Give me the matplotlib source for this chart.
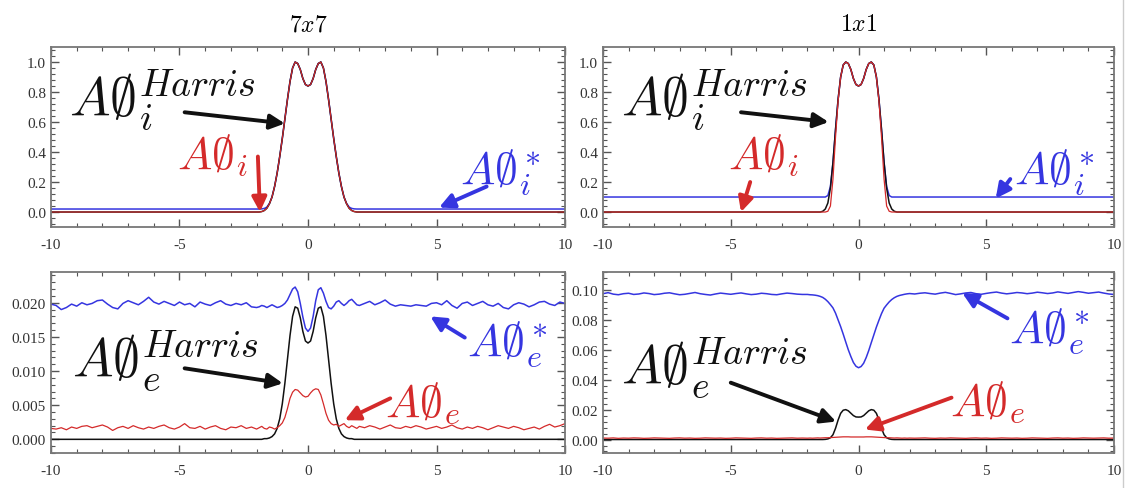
"""
Four-panel comparison of A0 profiles (7x7 vs 1x1), inner and edge quantities.
"""
import numpy as np
import matplotlib
matplotlib.use("Agg")
import matplotlib.pyplot as plt
from matplotlib.ticker import MultipleLocator, AutoMinorLocator, FormatStrFormatter
from matplotlib.lines import Line2D

plt.rcParams["mathtext.fontset"] = "cm"
plt.rcParams["font.family"] = ["Liberation Serif", "DejaVu Serif"]
plt.rcParams["axes.unicode_minus"] = False

BLUE = "#3535e0"
RED = "#d42a2a"
BLACK = "#111111"

# sampling grids (coarse outside the core, finer in the middle)
X_LEFT = np.round(np.arange(-10.0, -2.1, 0.2), 1)
X_MID = np.round(np.arange(-2.0, 2.01, 0.1), 1)
X_RIGHT = np.round(np.arange(2.2, 10.01, 0.2), 1)
X_FULL = np.concatenate([X_LEFT, X_MID, X_RIGHT])
X_SMOOTH = np.concatenate([[-10.0], X_MID, [10.0]])

# ---- top-left (7x7, inner) ----
TL_BLACK = [0.0,
            0.0, 0.0, 0.003, 0.01, 0.025, 0.055, 0.10, 0.17, 0.26, 0.37, 0.49,
            0.62, 0.75, 0.87, 0.96, 1.0, 0.99, 0.95, 0.89, 0.85, 0.84,
            0.85, 0.89, 0.95, 0.99, 1.0, 0.96, 0.87, 0.75, 0.62, 0.49,
            0.37, 0.26, 0.17, 0.10, 0.055, 0.025, 0.01, 0.003, 0.0, 0.0,
            0.0]
TL_RED = TL_BLACK
TL_BLUE = [0.02,
           0.02, 0.02, 0.021, 0.024, 0.033, 0.058, 0.10, 0.17, 0.26, 0.37, 0.49,
           0.62, 0.75, 0.87, 0.96, 1.0, 0.99, 0.95, 0.89, 0.85, 0.84,
           0.85, 0.89, 0.95, 0.99, 1.0, 0.96, 0.87, 0.75, 0.62, 0.49,
           0.37, 0.26, 0.17, 0.10, 0.058, 0.033, 0.024, 0.021, 0.02, 0.02,
           0.02]

# ---- top-right (1x1, inner) ----
TR_BLACK = [0.0,
            0.0, 0.0, 0.0, 0.0, 0.0, 0.0, 0.005, 0.02, 0.06, 0.16, 0.33,
            0.55, 0.75, 0.90, 0.98, 1.0, 0.99, 0.95, 0.89, 0.85, 0.84,
            0.85, 0.89, 0.95, 0.99, 1.0, 0.98, 0.90, 0.75, 0.55, 0.33,
            0.16, 0.06, 0.02, 0.005, 0.0, 0.0, 0.0, 0.0, 0.0, 0.0,
            0.0]
TR_RED = [0.0,
          0.0, 0.0, 0.0, 0.0, 0.0, 0.0, 0.0, 0.0, 0.005, 0.04, 0.22,
          0.50, 0.74, 0.90, 0.98, 1.0, 0.99, 0.95, 0.89, 0.85, 0.84,
          0.85, 0.89, 0.95, 0.99, 1.0, 0.98, 0.90, 0.74, 0.50, 0.22,
          0.04, 0.005, 0.0, 0.0, 0.0, 0.0, 0.0, 0.0, 0.0, 0.0,
          0.0]
TR_BLUE = [0.10,
           0.10, 0.10, 0.10, 0.10, 0.10, 0.10, 0.10, 0.10, 0.11, 0.17, 0.33,
           0.55, 0.75, 0.90, 0.98, 1.0, 0.99, 0.95, 0.89, 0.85, 0.84,
           0.85, 0.89, 0.95, 0.99, 1.0, 0.98, 0.90, 0.75, 0.55, 0.33,
           0.17, 0.11, 0.10, 0.10, 0.10, 0.10, 0.10, 0.10, 0.10, 0.10,
           0.10]

# ---- bottom-left (7x7, edge) ----
BL_BLACK = [0.0,
            0.0, 0.0, 0.0, 0.0001, 0.0001, 0.0002, 0.0004, 0.0008, 0.0016, 0.0030, 0.0052,
            0.0082, 0.0117, 0.0152, 0.0180, 0.0194, 0.0192, 0.0178, 0.0158, 0.0144, 0.0141,
            0.0144, 0.0158, 0.0178, 0.0192, 0.0194, 0.0180, 0.0152, 0.0117, 0.0082, 0.0052,
            0.0030, 0.0016, 0.0008, 0.0004, 0.0002, 0.0001, 0.0001, 0.0, 0.0, 0.0,
            0.0]
BL_BLUE = [
    # -10 .. -2.2
    0.0198, 0.0196, 0.0190, 0.0193, 0.0198, 0.0195, 0.0200, 0.0197, 0.0199, 0.0203,
    0.0204, 0.0198, 0.0193, 0.0191, 0.0199, 0.0203, 0.0200, 0.0197, 0.0202, 0.0208,
    0.0201, 0.0198, 0.0202, 0.0199, 0.0196, 0.0201, 0.0197, 0.0199, 0.0194, 0.0201,
    0.0198, 0.0196, 0.0200, 0.0203, 0.0198, 0.0196, 0.0199, 0.0197, 0.0200, 0.0194,
    # -2.0 .. 2.0
    0.0193, 0.0194, 0.0196, 0.0195, 0.0193, 0.0195, 0.0197, 0.0195, 0.0193, 0.0194,
    0.0196, 0.0199, 0.0204, 0.0212, 0.0220, 0.0223, 0.0216, 0.0199, 0.0179, 0.0163,
    0.0158, 0.0163, 0.0180, 0.0203, 0.0219, 0.0222, 0.0214, 0.0202, 0.0193, 0.0191,
    0.0195, 0.0201, 0.0203, 0.0199, 0.0196, 0.0199, 0.0203, 0.0205, 0.0201, 0.0197,
    0.0196,
    # 2.2 .. 10
    0.0199, 0.0202, 0.0197, 0.0200, 0.0204, 0.0198, 0.0195, 0.0197, 0.0196, 0.0195,
    0.0197, 0.0196, 0.0195, 0.0199, 0.0200, 0.0197, 0.0203, 0.0196, 0.0192, 0.0199,
    0.0201, 0.0196, 0.0199, 0.0202, 0.0197, 0.0195, 0.0199, 0.0193, 0.0191, 0.0197,
    0.0200, 0.0198, 0.0194, 0.0197, 0.0201, 0.0202, 0.0198, 0.0196, 0.0201, 0.0199]
BL_RED = [
    0.0016, 0.0015, 0.0017, 0.0014, 0.0018, 0.0016, 0.0019, 0.0020, 0.0017, 0.0019,
    0.0021, 0.0018, 0.0013, 0.0017, 0.0019, 0.0016, 0.0020, 0.0017, 0.0015, 0.0018,
    0.0016, 0.0019, 0.0021, 0.0017, 0.0015, 0.0018, 0.0023, 0.0017, 0.0016, 0.0019,
    0.0015, 0.0018, 0.0020, 0.0016, 0.0014, 0.0018, 0.0017, 0.0020, 0.0016, 0.0018,
    0.0015, 0.0017, 0.0019, 0.0016, 0.0015, 0.0018, 0.0017, 0.0015, 0.0017, 0.0020,
    0.0024, 0.0032, 0.0045, 0.0060, 0.0069, 0.0073, 0.0072, 0.0068, 0.0064, 0.0062,
    0.0063, 0.0068, 0.0072, 0.0074, 0.0073, 0.0065, 0.0052, 0.0038, 0.0028, 0.0023,
    0.0021, 0.0022, 0.0019, 0.0021, 0.0023, 0.0019, 0.0017, 0.0020, 0.0018, 0.0016,
    0.0019,
    0.0017, 0.0020, 0.0018, 0.0015, 0.0018, 0.0021, 0.0017, 0.0016, 0.0019, 0.0017,
    0.0020, 0.0018, 0.0015, 0.0017, 0.0019, 0.0016, 0.0018, 0.0021, 0.0017, 0.0015,
    0.0018, 0.0016, 0.0019, 0.0017, 0.0014, 0.0017, 0.0020, 0.0018, 0.0016, 0.0019,
    0.0017, 0.0014, 0.0016, 0.0018, 0.0015, 0.0019, 0.0022, 0.0018, 0.0020, 0.0023]

# ---- bottom-right (1x1, edge) ----
BR_BLACK = [0.0,
            0.0, 0.0, 0.0, 0.0, 0.0, 0.0, 0.0, 0.0001, 0.0004, 0.0012, 0.0032,
            0.0075, 0.0130, 0.0175, 0.0196, 0.0200, 0.0192, 0.0176, 0.0160, 0.0151, 0.0150,
            0.0151, 0.0160, 0.0176, 0.0192, 0.0200, 0.0196, 0.0175, 0.0130, 0.0075, 0.0032,
            0.0012, 0.0004, 0.0001, 0.0, 0.0, 0.0, 0.0, 0.0, 0.0, 0.0,
            0.0]
BR_BLUE = [
    0.0975, 0.0982, 0.0972, 0.0968, 0.0975, 0.0978, 0.0970, 0.0973, 0.0980, 0.0976,
    0.0969, 0.0972, 0.0978, 0.0981, 0.0974, 0.0968, 0.0971, 0.0977, 0.0983, 0.0975,
    0.0970, 0.0966, 0.0973, 0.0979, 0.0975, 0.0971, 0.0976, 0.0980, 0.0974, 0.0969,
    0.0972, 0.0978, 0.0975, 0.0970, 0.0968, 0.0974, 0.0979, 0.0976, 0.0972, 0.0970,
    0.0970, 0.0968, 0.0967, 0.0965, 0.0962, 0.0957, 0.0950, 0.0938, 0.0922, 0.0902,
    0.0880, 0.0845, 0.0800, 0.0755, 0.0705, 0.0652, 0.0600, 0.0555, 0.0515, 0.0490,
    0.0480, 0.0488, 0.0510, 0.0548, 0.0595, 0.0648, 0.0700, 0.0752, 0.0798, 0.0842,
    0.0878, 0.0900, 0.0920, 0.0936, 0.0948, 0.0957, 0.0963, 0.0967, 0.0971, 0.0974,
    0.0976,
    0.0973, 0.0978, 0.0981, 0.0976, 0.0972, 0.0979, 0.0984, 0.0977, 0.0969, 0.0974,
    0.0980, 0.0983, 0.0975, 0.0971, 0.0977, 0.0982, 0.0986, 0.0979, 0.0974, 0.0978,
    0.0983, 0.0980, 0.0975, 0.0979, 0.0985, 0.0981, 0.0976, 0.0980, 0.0987, 0.0982,
    0.0977, 0.0983, 0.0989, 0.0984, 0.0978, 0.0982, 0.0986, 0.0979, 0.0973, 0.0970]
BR_RED = [
    0.0010, 0.0009, 0.0011, 0.0008, 0.0010, 0.0009, 0.0011, 0.0010, 0.0008, 0.0009,
    0.0011, 0.0010, 0.0009, 0.0008, 0.0010, 0.0011, 0.0009, 0.0010, 0.0008, 0.0009,
    0.0011, 0.0010, 0.0009, 0.0010, 0.0008, 0.0009, 0.0011, 0.0010, 0.0009, 0.0008,
    0.0010, 0.0011, 0.0009, 0.0010, 0.0008, 0.0009, 0.0010, 0.0011, 0.0009, 0.0010,
    0.0009, 0.0010, 0.0009, 0.0010, 0.0011, 0.0010, 0.0011, 0.0012, 0.0012, 0.0013,
    0.0014, 0.0015, 0.0016, 0.0017, 0.0018, 0.0018, 0.0018, 0.0017, 0.0017, 0.0017,
    0.0017, 0.0017, 0.0017, 0.0018, 0.0018, 0.0018, 0.0017, 0.0016, 0.0015, 0.0014,
    0.0013, 0.0012, 0.0012, 0.0011, 0.0010, 0.0011, 0.0010, 0.0009, 0.0010, 0.0009,
    0.0010,
    0.0009, 0.0010, 0.0011, 0.0009, 0.0008, 0.0010, 0.0009, 0.0011, 0.0010, 0.0009,
    0.0008, 0.0010, 0.0011, 0.0009, 0.0010, 0.0008, 0.0009, 0.0011, 0.0010, 0.0009,
    0.0010, 0.0008, 0.0009, 0.0011, 0.0010, 0.0009, 0.0008, 0.0010, 0.0011, 0.0009,
    0.0010, 0.0008, 0.0009, 0.0011, 0.0010, 0.0009, 0.0010, 0.0011, 0.0009, 0.0010]

TITLES = [r"$7x7$", r"$1x1$"]

# label text, colour, text position (x, y), arrow tail, arrow head
TL_NOTES = [
    (r"$A\emptyset_i^{Harris}$", BLACK, (-9.3, 0.64), (-4.8, 0.665), (-0.9, 0.59)),
    (r"$A\emptyset_i$", RED, (-5.1, 0.29), (-1.95, 0.37), (-1.87, 0.0)),
    (r"$A\emptyset_i^*$", BLUE, (5.9, 0.20), (6.95, 0.17), (5.1, 0.03)),
]
TR_NOTES = [
    (r"$A\emptyset_i^{Harris}$", BLACK, (-9.3, 0.64), (-4.6, 0.665), (-1.17, 0.60)),
    (r"$A\emptyset_i$", RED, (-5.1, 0.29), (-4.24, 0.20), (-4.6, 0.0)),
    (r"$A\emptyset_i^*$", BLUE, (6.1, 0.20), (5.94, 0.22), (5.37, 0.09)),
]
BL_NOTES = [
    (r"$A\emptyset_e^{Harris}$", BLACK, (-9.2, 0.0092), (-4.8, 0.0104), (-0.98, 0.0082)),
    (r"$A\emptyset_e$", RED, (3.0, 0.0034), (3.2, 0.0060), (1.43, 0.0028)),
    (r"$A\emptyset_e^*$", BLUE, (6.2, 0.0124), (6.1, 0.0149), (4.76, 0.0180)),
]
BR_NOTES = [
    (r"$A\emptyset_e^{Harris}$", BLACK, (-9.3, 0.037), (-5.0, 0.038), (-0.88, 0.012)),
    (r"$A\emptyset_e$", RED, (3.6, 0.016), (3.64, 0.028), (0.25, 0.0067)),
    (r"$A\emptyset_e^*$", BLUE, (5.9, 0.066), (5.83, 0.081), (4.06, 0.098)),
]


def style_axes(ax, ylim, ymajor, yfmt):
    ax.set_xlim(-10, 10)
    ax.set_ylim(*ylim)
    ax.xaxis.set_major_locator(MultipleLocator(5))
    ax.xaxis.set_minor_locator(AutoMinorLocator(5))
    ax.yaxis.set_major_locator(MultipleLocator(ymajor))
    ax.yaxis.set_minor_locator(AutoMinorLocator(5))
    ax.yaxis.set_major_formatter(FormatStrFormatter(yfmt))
    ax.tick_params(which="both", direction="in", top=True, right=True,
                   colors="#555555", labelcolor="#333333", labelsize=11)
    ax.tick_params(which="major", length=6, width=1.0)
    ax.tick_params(which="minor", length=3, width=0.8)
    ax.tick_params(axis="x", pad=8)
    for s in ax.spines.values():
        s.set_color("#777777")
        s.set_linewidth(1.3)


def add_notes(ax, notes):
    for text, col, pos, tail, head in notes:
        size = 39 if col == BLACK else 33
        ax.text(pos[0], pos[1], text, color=col, fontsize=size,
                ha="left", va="baseline")
        ax.annotate("", xy=head, xytext=tail,
                    arrowprops=dict(arrowstyle="-|>", color=col, lw=2.8,
                                    mutation_scale=22, shrinkA=0, shrinkB=0))


def main():
    fig = plt.figure(figsize=(11.28, 4.89), dpi=100)
    ax_tl = fig.add_axes([0.0452, 0.5337, 0.4557, 0.3681])
    ax_tr = fig.add_axes([0.5346, 0.5337, 0.4530, 0.3681])
    ax_bl = fig.add_axes([0.0452, 0.0716, 0.4557, 0.3701])
    ax_br = fig.add_axes([0.5346, 0.0716, 0.4530, 0.3701])

    lw = 1.1
    # top-left
    ax_tl.plot(X_SMOOTH, TL_BLUE, color=BLUE, lw=lw)
    ax_tl.plot(X_SMOOTH, TL_BLACK, color=BLACK, lw=lw)
    ax_tl.plot(X_SMOOTH, TL_RED, color=RED, lw=0.8)
    style_axes(ax_tl, (-0.1, 1.1), 0.2, "%.1f")
    add_notes(ax_tl, TL_NOTES)

    # top-right
    ax_tr.plot(X_SMOOTH, TR_BLUE, color=BLUE, lw=lw)
    ax_tr.plot(X_SMOOTH, TR_BLACK, color=BLACK, lw=lw)
    ax_tr.plot(X_SMOOTH, TR_RED, color=RED, lw=0.9)
    style_axes(ax_tr, (-0.1, 1.1), 0.2, "%.1f")
    add_notes(ax_tr, TR_NOTES)

    # bottom-left
    ax_bl.plot(X_FULL, BL_BLUE, color=BLUE, lw=lw)
    ax_bl.plot(X_SMOOTH, BL_BLACK, color=BLACK, lw=lw)
    ax_bl.plot(X_FULL, BL_RED, color=RED, lw=0.9)
    style_axes(ax_bl, (-0.002, 0.0245), 0.005, "%.3f")
    add_notes(ax_bl, BL_NOTES)

    # bottom-right
    ax_br.plot(X_FULL, BR_BLUE, color=BLUE, lw=lw)
    ax_br.plot(X_SMOOTH, BR_BLACK, color=BLACK, lw=lw)
    ax_br.plot(X_FULL, BR_RED, color=RED, lw=0.9)
    style_axes(ax_br, (-0.009, 0.112), 0.02, "%.2f")
    add_notes(ax_br, BR_NOTES)

    ax_tl.set_title(TITLES[0], fontsize=17, pad=12)
    ax_tr.set_title(TITLES[1], fontsize=17, pad=12)

    # thin screenshot border on the right
    fig.add_artist(Line2D([0.9955, 0.9955], [0.0, 1.0], color="#cccccc", lw=1.0,
                          transform=fig.transFigure))

    fig.savefig("out.png", dpi=100)
    plt.close(fig)


if __name__ == "__main__":
    main()
